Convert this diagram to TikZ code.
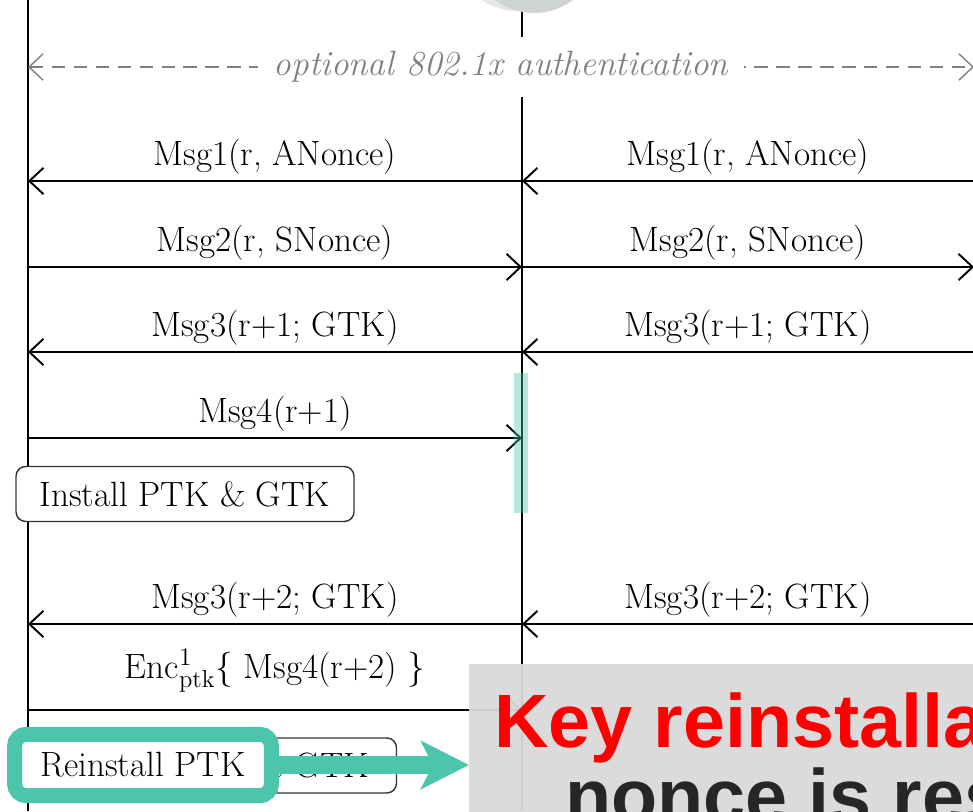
\documentclass[tikz,border=0pt]{standalone}
\usepackage{fontspec}
\usepackage{tikz}
\usetikzlibrary{arrows.meta}
\newfontfamily\keyfont{Liberation Sans}
\definecolor{krteal}{RGB}{77,196,172}
\definecolor{krgray}{RGB}{217,217,217}
\definecolor{orb}{RGB}{207,211,212}
\definecolor{orblight}{RGB}{229,231,232}
\definecolor{authgray}{RGB}{128,128,128}
\definecolor{noncegray}{RGB}{38,38,38}

\begin{document}
\begin{tikzpicture}[x=0.02cm, y=0.02cm,
    lbl/.style={font=\fontsize{20}{24}\selectfont},
    life/.style={line width=1.1pt},
    msg/.style={line width=1.1pt, -{Straight Barb[length=8pt, width=15pt]}},
    authline/.style={authgray, line width=0.8pt, dash pattern=on 7.5pt off 5pt,
      {Straight Barb[length=8pt, width=15pt]}-{Straight Barb[length=8pt, width=15pt]}},
    instbox/.style={lbl, draw=black!80, line width=0.8pt, rounded corners=5.5pt,
      fill=white, minimum height=1.1cm},
    hlbox/.style={lbl, draw=krteal, line width=0.3cm, rounded corners=0.24cm,
      fill=white, inner sep=0pt, minimum width=5.14cm, minimum height=1.23cm},
    hlarrow/.style={krteal, line width=0.36cm,
      -{Stealth[length=0.96cm, width=0.96cm, inset=0.24cm]}},
    keytext/.style={anchor=base west, inner sep=0pt,
      font=\keyfont\bfseries\fontsize{43}{50}\selectfont}]
  \def\Lx{28}  \def\Mx{522}  \def\Rx{974}

  \useasboundingbox (0,0) rectangle (973,811);
  \clip (0,0) rectangle (973,811);

  \coordinate (cl-top) at (\Lx,811);  \coordinate (cl-bot) at (\Lx,0);
  \coordinate (mitm-top) at (\Mx,811);  \coordinate (mitm-bot) at (\Mx,0);
  \foreach \n/\y in {0/744, 1/630, 2/544, 3/459, 4/373, 5/187, 6/101} {
    \coordinate (cl\n) at (\Lx,\y);
    \coordinate (mitm\n) at (\Mx,\y);
    \coordinate (ap\n) at (\Rx,\y);
  }

  \draw[life] (cl-top) -- (cl-bot);
  \draw[life] (mitm-top) -- (mitm-bot);
  \fill[orblight] (518,866) circle[radius=66];
  \fill[orb] (534,863) circle[radius=65];

  \draw[authline] (cl0) -- (ap0) node[midway, fill=white, text=authgray,
    font=\itshape\fontsize{20}{24}\selectfont, inner xsep=9pt, inner ysep=8pt]
    (auth) {optional 802.1x authentication};

  \draw[msg] (mitm1) -- (cl1) node[midway, above, lbl] (m1a) {Msg1(r, ANonce)};
  \draw[msg] (ap1) -- (mitm1) node[midway, above, lbl] (m1b) {Msg1(r, ANonce)};
  \draw[msg] (cl2) -- (mitm2) node[midway, above, lbl] (m2a) {Msg2(r, SNonce)};
  \draw[msg] (mitm2) -- (ap2) node[midway, above, lbl] (m2b) {Msg2(r, SNonce)};
  \draw[msg] (mitm3) -- (cl3) node[midway, above, lbl] (m3a) {Msg3(r+1; GTK)};
  \draw[msg] (ap3) -- (mitm3) node[midway, above, lbl] (m3b) {Msg3(r+1; GTK)};
  \draw[msg] (cl4) -- (mitm4) node[midway, above, lbl] (m4a) {Msg4(r+1)};

  \node[instbox, minimum width=6.76cm] (inst) at (185,317) {Install PTK \& GTK};
  \fill[krteal, opacity=0.4] (513.5,438) rectangle (527.5,298);

  \draw[msg] (mitm5) -- (cl5) node[midway, above, lbl] (m5a) {Msg3(r+2; GTK)};
  \draw[msg] (ap5) -- (mitm5) node[midway, above, lbl] (m5b) {Msg3(r+2; GTK)};
  \draw[msg] (cl6) -- (mitm6) node[midway, above=6pt, lbl] (m6a)
    {Enc$^{1}_{\mathrm{ptk}}$\{ Msg4(r+2) \}};

  \node[instbox, minimum width=7.62cm] (reinst) at (206,45.5)
    {\phantom{Reinstall PTK} \& GTK};

  \node[fill=krgray, fill opacity=0.95, inner sep=0pt, minimum width=11cm,
    minimum height=4cm, anchor=north west] (keybox) at (469,147) {};
  \node[keytext, text=red] (keyline) at (494,64) {Key reinstalla};
  \node[keytext, text=noncegray] (nonceline) at (565,-11) {nonce is res};

  \node[hlbox] (hl) at (143,46) {Reinstall PTK};
  \draw[hlarrow] (hl.east) -- (hl.east -| keybox.west);
\end{tikzpicture}
\end{document}
